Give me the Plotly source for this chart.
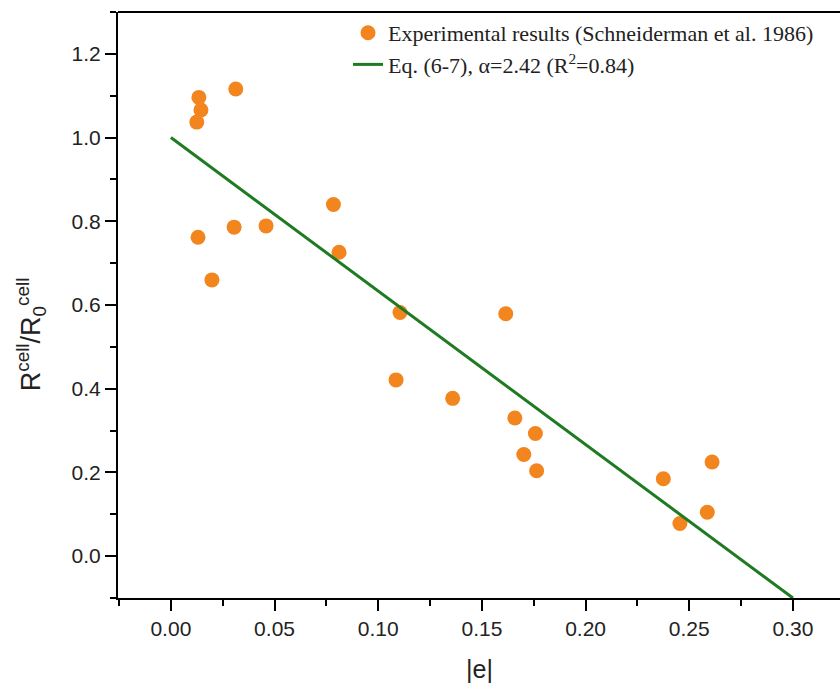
import plotly.graph_objects as go

# Measured strain magnitude |e| and normalised cell resistance
strain = [0.0135, 0.0145, 0.0125, 0.0313, 0.0131, 0.0198, 0.0305, 0.0459,
          0.0784, 0.0811, 0.1105, 0.1086, 0.1359, 0.1615, 0.1659, 0.1702,
          0.1758, 0.1764, 0.2375, 0.2455, 0.2587, 0.2610]
resistance = [1.096, 1.066, 1.037, 1.116, 0.762, 0.660, 0.786, 0.789,
              0.840, 0.726, 0.582, 0.421, 0.377, 0.579, 0.330, 0.243,
              0.293, 0.204, 0.185, 0.078, 0.105, 0.225]

# Model line, Eq. (6-7)
model_x = [0.0, 0.30]
model_y = [1.0, -0.10]

x_ticks = [0.00, 0.05, 0.10, 0.15, 0.20, 0.25, 0.30]
x_tick_text = ["0.00", "0.05", "0.10", "0.15", "0.20", "0.25", "0.30"]
y_ticks = [0.0, 0.2, 0.4, 0.6, 0.8, 1.0, 1.2]
y_tick_text = ["0.0", "0.2", "0.4", "0.6", "0.8", "1.0", "1.2"]

ORANGE = "#F3851F"
GREEN = "#1E7B22"
SANS = "Liberation Sans, Arial, sans-serif"
AXIS_FONT = dict(family=SANS, size=21, color="#222222")

fig = go.Figure()
fig.add_trace(go.Scatter(
    x=strain, y=resistance, mode="markers",
    name="Experimental results (Schneiderman et al. 1986)",
    marker=dict(size=15, color=ORANGE, line=dict(width=0)),
))
fig.add_trace(go.Scatter(
    x=model_x, y=model_y, mode="lines",
    name="Eq. (6-7), \u03b1=2.42 (R<sup>2</sup>=0.84)",
    line=dict(color=GREEN, width=3),
))

axis_common = dict(
    showline=True, linecolor="black", linewidth=2,
    ticks="outside", tickwidth=1.5, tickcolor="black", ticklen=11,
    showgrid=False, zeroline=False, tickfont=AXIS_FONT,
)

fig.update_xaxes(
    range=[-0.0255, 0.3227], tickvals=x_ticks, ticktext=x_tick_text,
    minor=dict(dtick=0.025, tick0=0, ticks="outside", ticklen=6,
               tickwidth=1.5, tickcolor="black", showgrid=False),
    **axis_common,
)
fig.update_yaxes(
    range=[-0.1, 1.3], tickvals=y_ticks, ticktext=y_tick_text,
    minor=dict(dtick=0.1, tick0=0, ticks="outside", ticklen=6,
               tickwidth=1.5, tickcolor="black", showgrid=False),
    **axis_common,
)

# Top frame line
fig.add_shape(type="line", xref="paper", yref="paper", x0=0, x1=1, y0=1, y1=1,
              line=dict(color="black", width=2))

# Axis titles
fig.add_annotation(text="|e|", xref="paper", yref="paper", x=0.5, y=-0.122,
                   xanchor="center", yanchor="middle", showarrow=False,
                   font=dict(family=SANS, size=25, color="#222222"))
fig.add_annotation(text="R<sup>cell</sup>/R<sub>0</sub><sup>cell</sup>",
                   xref="paper", yref="paper", x=-0.1205, y=0.45, textangle=-90,
                   xanchor="center", yanchor="middle", showarrow=False,
                   font=dict(family=SANS, size=27, color="#222222"))

fig.update_layout(
    width=840, height=690,
    margin=dict(l=118, r=0, t=12, b=92),
    paper_bgcolor="white", plot_bgcolor="white",
    showlegend=True,
    legend=dict(
        x=0.3186, y=1.0, xanchor="left", yanchor="top",
        bgcolor="rgba(0,0,0,0)", borderwidth=0,
        font=dict(family="Liberation Serif, Times New Roman, serif", size=22, color="#222222"),
        tracegroupgap=0,
    ),
)

fig.write_html("out.html")
